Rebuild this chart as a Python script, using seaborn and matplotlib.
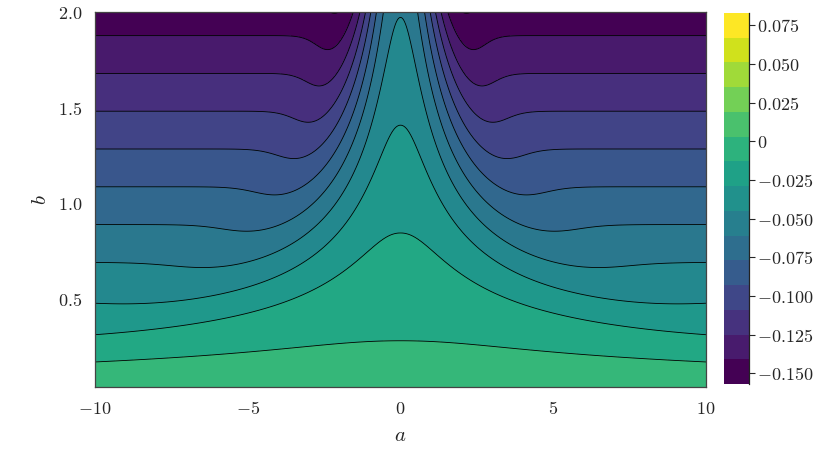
import numpy as np
import matplotlib
matplotlib.use("Agg")
import matplotlib.pyplot as plt
from matplotlib.colors import ListedColormap, BoundaryNorm
from matplotlib.cm import ScalarMappable
import seaborn as sns

sns.set_style("white")
plt.rcParams["font.family"] = ["DejaVu Serif"]
plt.rcParams["mathtext.fontset"] = "cm"

# axis ranges
a_lim = [-10, 10]
b_lim = [0.04, 2.0]

# surface shape
c0 = 0.011           # value as b -> 0
slope_far = -0.081   # d/db for large |a|
amp = 0.0526         # extra d/db at a = 0
x_zero = 3.5         # a*b where the bump changes sign
x_width = 3.3
x_power = 2.8

# colour levels
z_min, z_max = -0.157, 0.083
n_bands = 15

x_ticks = [-10, -5, 0, 5, 10]
x_ticklabels = ["$-10$", "$-5$", "$0$", "$5$", "$10$"]
y_ticks = [0.5, 1.0, 1.5, 2.0]
y_ticklabels = ["$0.5$", "$1.0$", "$1.5$", "$2.0$"]
cbar_ticks = [-0.150, -0.125, -0.100, -0.075, -0.050, -0.025, 0.0, 0.025, 0.050, 0.075]
cbar_ticklabels = ["$-0.150$", "$-0.125$", "$-0.100$", "$-0.075$", "$-0.050$",
                   "$-0.025$", "$0$", "$0.025$", "$0.050$", "$0.075$"]


def surface(a, b):
    x = a * b
    bump = amp * (1 - (x / x_zero) ** 2) * np.exp(-np.abs(x / x_width) ** x_power)
    return c0 + slope_far * b + b * bump


a = np.linspace(a_lim[0], a_lim[1], 601)
b = np.linspace(b_lim[0], b_lim[1], 400)
A, B = np.meshgrid(a, b)
Z = surface(A, B)

levels = np.linspace(z_min, z_max, n_bands + 1)
cmap = sns.color_palette("viridis", as_cmap=True)
# fills take the colour of their lower level, the colour bar runs end to end
fill_colors = cmap(np.arange(n_bands) / n_bands)
bar_cmap = ListedColormap(cmap(np.linspace(0, 1, n_bands)))

fig = plt.figure(figsize=(8.3, 4.67), dpi=100)
ax = fig.add_axes([95 / 830, 80 / 467, 611 / 830, 375 / 467])
cax = fig.add_axes([724 / 830, 83 / 467, 25 / 830, 371 / 467])

ax.contourf(A, B, Z, levels=levels, colors=fill_colors)
ax.contour(A, B, Z, levels=levels, colors="black", linewidths=0.6,
           linestyles="solid")

ax.set_xlim(a_lim)
ax.set_ylim(b_lim)
ax.set_xticks(x_ticks)
ax.set_xticklabels(x_ticklabels)
ax.set_yticks(y_ticks)
ax.set_yticklabels(y_ticklabels)
ax.tick_params(length=0, labelsize=13, pad=9)
ax.set_xlabel("$a$", fontsize=15, labelpad=6)
ax.set_ylabel("$b$", fontsize=15, labelpad=6)
for sp in ax.spines.values():
    sp.set_color("#444444")
    sp.set_linewidth(0.9)

sm = ScalarMappable(norm=BoundaryNorm(levels, n_bands), cmap=bar_cmap)
cb = fig.colorbar(sm, cax=cax)
cb.outline.set_visible(False)
cax.spines["right"].set_visible(True)
cax.spines["right"].set_color("#222222")
cax.spines["right"].set_linewidth(0.9)
cb.set_ticks(cbar_ticks)
cb.set_ticklabels(cbar_ticklabels)
cb.minorticks_off()
cax.tick_params(which="major", length=4, width=0.8, labelsize=13, pad=2)

plt.savefig("out.png", dpi=100)
plt.close()
